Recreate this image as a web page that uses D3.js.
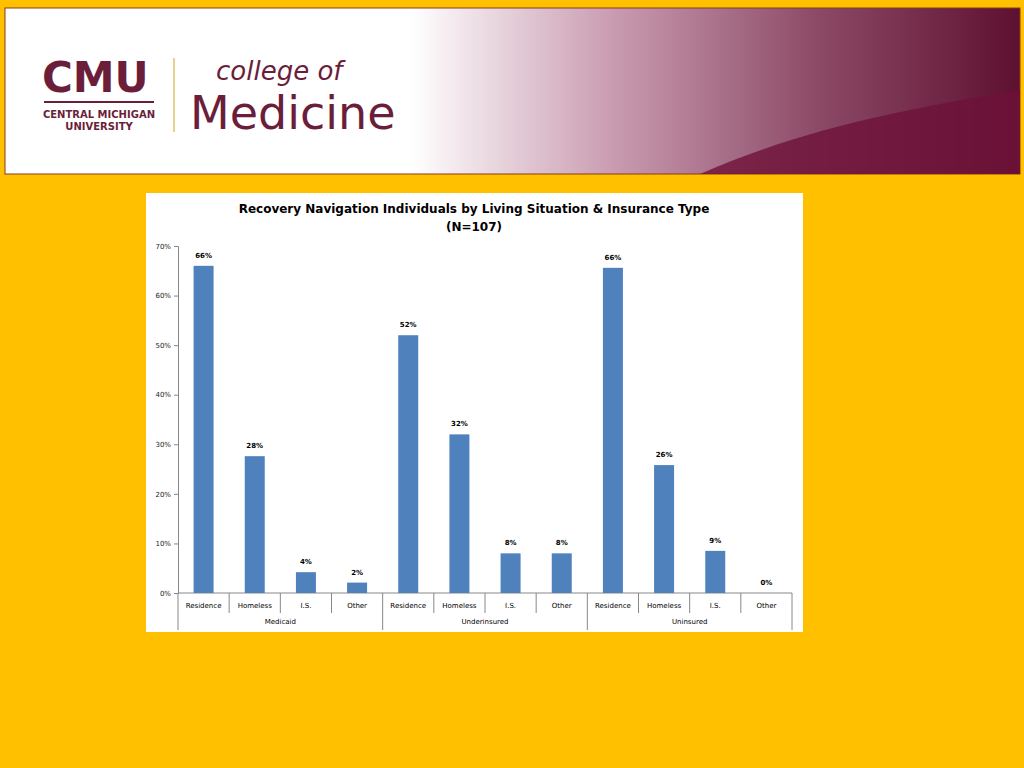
<!DOCTYPE html>
<html>
<head>
<meta charset="utf-8">
<style>
  body { margin: 0; background: #FFC000; }
  svg { display: block; }
  text { font-family: "DejaVu Sans", sans-serif; }
</style>
</head>
<body>
<svg id="page" width="1024" height="768"></svg>
<script src="https://cdn.jsdelivr.net/npm/d3@7"></script>
<script>
var categories = ["Residence", "Homeless", "I.S.", "Other"];
var groups = ["Medicaid", "Underinsured", "Uninsured"];
var values = [
  [0.66, 0.276, 0.042, 0.021],
  [0.52, 0.32, 0.08, 0.08],
  [0.656, 0.258, 0.085, 0.0]
];
var yTicks = [0, 0.1, 0.2, 0.3, 0.4, 0.5, 0.6, 0.7];

var svg = d3.select("#page");

// banner
var defs = svg.append("defs");
var grad = defs.append("linearGradient").attr("id", "ban");
grad.append("stop").attr("offset", "0.4").attr("stop-color", "#ffffff");
grad.append("stop").attr("offset", "0.6").attr("stop-color", "#c99bb0");
grad.append("stop").attr("offset", "0.8").attr("stop-color", "#8c4a66");
grad.append("stop").attr("offset", "1").attr("stop-color", "#5e1030");
svg.append("rect").attr("x", 5).attr("y", 8).attr("width", 1015).attr("height", 166)
  .attr("fill", "url(#ban)").attr("stroke", "#8a3a1a").attr("stroke-width", 1);
svg.append("path").attr("d", "M700,174 C800,130 900,110 1020,90 L1020,174 Z").attr("fill", "#6e1238").attr("opacity", 0.8);
svg.append("text").attr("x", 42).attr("y", 92).text("CMU")
  .attr("font-family", "Liberation Serif").attr("font-weight", "bold").attr("font-size", 42).attr("fill", "#6b1e3a");
svg.append("line").attr("x1", 44).attr("x2", 154).attr("y1", 102).attr("y2", 102).attr("stroke", "#6b1e3a").attr("stroke-width", 2);
svg.append("text").attr("x", 99).attr("y", 118).attr("text-anchor", "middle").text("CENTRAL MICHIGAN")
  .attr("font-size", 10).attr("font-weight", "bold").attr("fill", "#6b1e3a");
svg.append("text").attr("x", 99).attr("y", 130).attr("text-anchor", "middle").text("UNIVERSITY")
  .attr("font-size", 10).attr("font-weight", "bold").attr("fill", "#6b1e3a");
svg.append("line").attr("x1", 174).attr("x2", 174).attr("y1", 58).attr("y2", 132).attr("stroke", "#e8d28a").attr("stroke-width", 2);
svg.append("text").attr("x", 216).attr("y", 80).text("college of")
  .attr("font-family", "Liberation Serif").attr("font-style", "italic").attr("font-size", 26).attr("fill", "#6b1e3a");
svg.append("text").attr("x", 190).attr("y", 129).text("Medicine")
  .attr("font-family", "Open Sans").attr("font-size", 46).attr("fill", "#6b1e3a");

// chart box
svg.append("rect").attr("x", 146).attr("y", 193).attr("width", 657).attr("height", 439).attr("fill", "#fff");
svg.append("text").attr("x", 474).attr("y", 213).attr("text-anchor", "middle")
  .attr("font-family", "Liberation Sans").attr("font-weight", "bold").attr("font-size", 12)
  .text("Recovery Navigation Individuals  by Living Situation & Insurance Type");
svg.append("text").attr("x", 474).attr("y", 231).attr("text-anchor", "middle")
  .attr("font-family", "Liberation Sans").attr("font-weight", "bold").attr("font-size", 12)
  .text("(N=107)");

var pLeft = 178, pRight = 792, pTop = 246, pBottom = 593;
var keys = [];
groups.forEach(function(g, gi) { categories.forEach(function(c, ci) { keys.push(gi + "|" + ci); }); });
var x = d3.scaleBand().domain(keys).range([pLeft, pRight]);
var y = d3.scaleLinear().domain([0, 0.7]).range([pBottom, pTop]);

var g = svg.append("g");
g.append("g").attr("transform", "translate(" + pLeft + ",0)")
  .call(d3.axisLeft(y).tickValues(yTicks).tickFormat(d3.format(".0%")).tickSize(4))
  .call(function(a) {
    a.selectAll("text").attr("font-size", 7).attr("fill", "#222");
    a.selectAll("line,path").attr("stroke", "#888");
  });
g.append("line").attr("x1", pLeft).attr("x2", pRight).attr("y1", pBottom).attr("y2", pBottom).attr("stroke", "#888");

var data = [];
values.forEach(function(row, gi) { row.forEach(function(v, ci) { data.push({ key: gi + "|" + ci, v: v, c: categories[ci] }); }); });
var bw = 20;
g.selectAll("rect.bar").data(data).enter().append("rect")
  .attr("x", function(d) { return x(d.key) + x.bandwidth() / 2 - bw / 2; })
  .attr("y", function(d) { return y(d.v); })
  .attr("width", bw)
  .attr("height", function(d) { return pBottom - y(d.v); })
  .attr("fill", "#4f81bd");
g.selectAll("text.val").data(data).enter().append("text")
  .attr("x", function(d) { return x(d.key) + x.bandwidth() / 2; })
  .attr("y", function(d) { return y(d.v) - 8; })
  .attr("text-anchor", "middle").attr("font-size", 7).attr("font-weight", "bold")
  .text(function(d) { return d3.format(".0%")(d.v); });
g.selectAll("text.cat").data(data).enter().append("text")
  .attr("x", function(d) { return x(d.key) + x.bandwidth() / 2; })
  .attr("y", 608).attr("text-anchor", "middle").attr("font-size", 7)
  .text(function(d) { return d.c; });
// separators
keys.forEach(function(k, i) {
  var xx = x(k);
  var major = i % 4 === 0;
  g.append("line").attr("x1", xx).attr("x2", xx).attr("y1", pBottom).attr("y2", major ? 630 : 613).attr("stroke", "#888");
});
g.append("line").attr("x1", pRight).attr("x2", pRight).attr("y1", pBottom).attr("y2", 630).attr("stroke", "#888");
groups.forEach(function(gn, gi) {
  var x0 = x(gi + "|0"), x1 = x(gi + "|3") + x.bandwidth();
  g.append("text").attr("x", (x0 + x1) / 2).attr("y", 624).attr("text-anchor", "middle").attr("font-size", 7).text(gn);
});
</script>
</body>
</html>
